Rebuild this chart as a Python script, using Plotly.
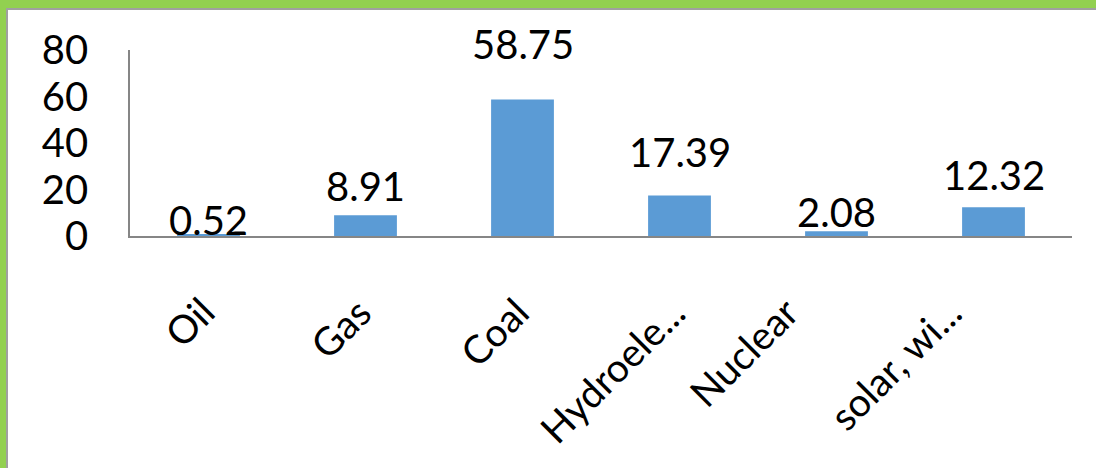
import plotly.graph_objects as go

# Electricity generation share by source (%)
sources = ["Oil", "Gas", "Coal", "Hydroele...", "Nuclear", "solar, wi..."]
shares = [0.52, 8.91, 58.75, 17.39, 2.08, 12.32]
y_ticks = [0, 20, 40, 60, 80]

# vertical offsets (px) of the value labels above each bar
label_lift = [15, 29, 55, 44, 19, 32]
# horizontal nudges (px) of the slanted category labels
cat_nudge = [17, 17, 17, 17, -27, -21]

W, H = 1096, 468
L, R, T, B = 130, 24, 50, 232
FONT = "Lato"
BAR = "#5B9BD5"
GREEN = "#92D050"
FRAME = "#A0A0A0"

fig = go.Figure(
    go.Bar(x=sources, y=shares, marker=dict(color=BAR, line=dict(width=0)), width=0.4)
)

for src, v, lift in zip(sources, shares, label_lift):
    fig.add_annotation(
        x=src, y=v, text=f"{v:.2f}", showarrow=False,
        yanchor="middle", yshift=lift,
        font=dict(family=FONT, size=40, color="black"),
    )

# slanted category labels hanging below the axis
for src, dx in zip(sources, cat_nudge):
    fig.add_annotation(
        x=src, y=0, text=src, showarrow=False, textangle=-45,
        xanchor="right", yanchor="top", xshift=dx, yshift=-50,
        font=dict(family=FONT, size=39, color="black"),
    )

# slide frame: green band with a thin grey edge along the top and left
pw, ph = W - L - R, H - T - B


def px(xp):
    return (xp - L) / pw


def py(yp):
    return (H - B - yp) / ph


frame = [
    (0, 0, W, 8, GREEN),
    (0, 0, 6, H, GREEN),
    (6, 8, W, 10, FRAME),
    (6, 8, 8, H, FRAME),
]
for x0, y0, x1, y1, c in frame:
    fig.add_shape(type="rect", xref="paper", yref="paper",
                  x0=px(x0), x1=px(x1), y0=py(y1), y1=py(y0),
                  fillcolor=c, line=dict(width=0), layer="above")

fig.update_layout(
    width=W, height=H,
    margin=dict(l=L, r=R, t=T, b=B, autoexpand=False),
    paper_bgcolor="white", plot_bgcolor="white",
    showlegend=False,
    font=dict(family=FONT, size=40, color="black"),
    bargap=0.6,
)
fig.update_yaxes(
    range=[0, 80], tickvals=y_ticks, showgrid=False, zeroline=False,
    showline=True, linecolor="#868686", linewidth=1.5,
    ticks="", ticklabelstandoff=32, automargin=False,
    tickfont=dict(family=FONT, size=40, color="black"),
)
fig.update_xaxes(
    showgrid=False, showline=True, linecolor="#868686", linewidth=1.5,
    ticks="", showticklabels=False, automargin=False,
)

fig.write_html("out.html")
